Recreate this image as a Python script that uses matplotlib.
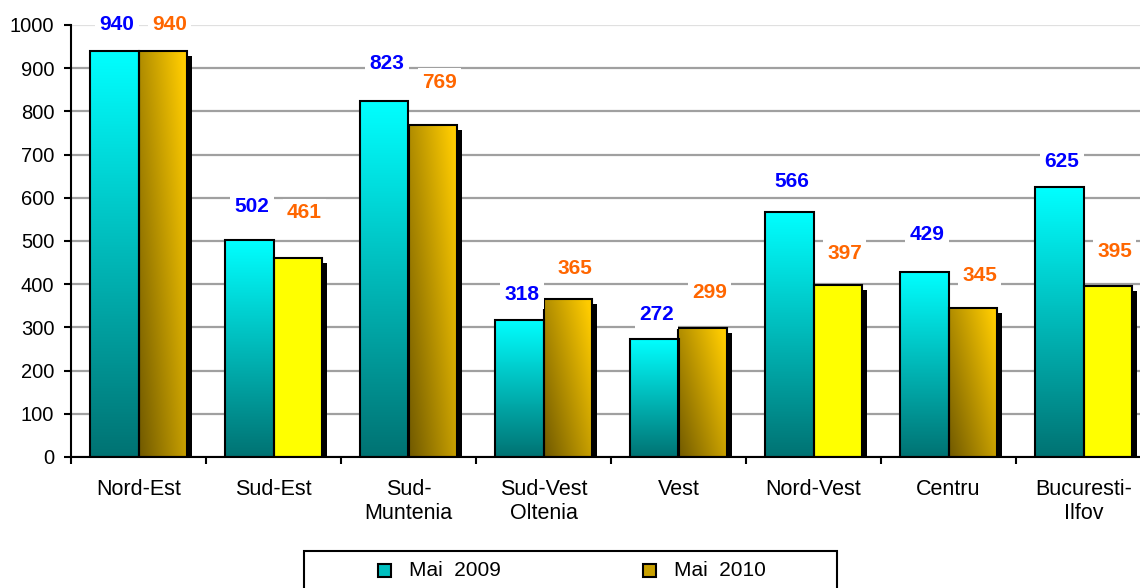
import numpy as np
import matplotlib.pyplot as plt
from matplotlib.patches import Rectangle
from matplotlib.transforms import ScaledTranslation

plt.rcParams['font.family'] = ['Liberation Sans', 'DejaVu Sans']

# Data
regions = ['Nord-Est', 'Sud-Est', 'Sud-\nMuntenia', 'Sud-Vest\nOltenia',
           'Vest', 'Nord-Vest', 'Centru', 'Bucuresti-\nIlfov']
mai_2009 = [940, 502, 823, 318, 272, 566, 429, 625]
mai_2010 = [940, 461, 769, 365, 299, 397, 345, 395]
series_labels = ['Mai  2009', 'Mai  2010']

# Styling: which 2010 bars are gold gradient and which are flat yellow
fill_2010 = ['gold', 'yellow', 'gold', 'gold', 'gold', 'yellow', 'gold', 'yellow']
# how far above each bar its value label sits (value units)
lift_2009 = [60, 77, 89, 57, 57, 71, 87, 59]
lift_2010 = [60, 104, 99, 72, 81, 75, 74, 80]

W = 0.36  # width of one bar, in category units


def cyan_gradient():
    t = np.linspace(0, 1, 128)[:, None]  # bottom -> top
    bottom = np.array([0.0, 0.45, 0.45])
    top = np.array([0.0, 1.0, 1.0])
    return (bottom + t[..., None] * (top - bottom))


def gold_gradient():
    yy, xx = np.mgrid[0:1:96j, 0:1:96j]  # rows bottom -> top
    t = np.clip(0.62 * xx + 0.45 * yy, 0, 1)
    dark = np.array([0.44, 0.35, 0.0])
    gold = np.array([1.0, 0.80, 0.0])
    return dark + t[..., None] * (gold - dark)


fig = plt.figure(figsize=(11.4, 5.88), dpi=100)
ax = fig.add_axes([71 / 1140, 131 / 588, 1080 / 1140, 432 / 588])

x = np.arange(len(regions))
x_2009 = x - W / 2
x_2010 = x + W / 2

# drop shadow behind the 2010 bars
shadow_tf = ax.transData + ScaledTranslation(5 / 100, -5 / 100, fig.dpi_scale_trans)
ax.bar(x_2010, mai_2010, W, color='black', zorder=1.5, transform=shadow_tf)

bars09 = ax.bar(x_2009, mai_2009, W, facecolor='none', edgecolor='black',
                linewidth=1.5, zorder=3)
bars10 = ax.bar(x_2010, mai_2010, W, facecolor='none', edgecolor='black',
                linewidth=1.5, zorder=3)

cg = cyan_gradient()
gg = gold_gradient()
for b in bars09:
    x0, h = b.get_x(), b.get_height()
    im = ax.imshow(cg, extent=(x0, x0 + W, 0, h), origin='lower',
                   aspect='auto', interpolation='bilinear', zorder=2)
    im.set_clip_path(b)
for b, style in zip(bars10, fill_2010):
    x0, h = b.get_x(), b.get_height()
    if style == 'yellow':
        ax.bar(b.get_x() + W / 2, h, W, color='#FFFF00', zorder=2)
    else:
        im = ax.imshow(gg, extent=(x0, x0 + W, 0, h), origin='lower',
                       aspect='auto', interpolation='bilinear', zorder=2)
        im.set_clip_path(b)

# value labels with white boxes cutting the gridlines
box = dict(boxstyle='square,pad=0.2', facecolor='white', edgecolor='none')
for xi, v, lift in zip(x_2009, mai_2009, lift_2009):
    ax.text(xi + 0.02, v + lift, str(v), ha='center', va='center', color='#0000FF',
            fontsize=15, fontweight='bold', bbox=box, zorder=4)
for xi, v, lift in zip(x_2010, mai_2010, lift_2010):
    ax.text(xi + 0.05, v + lift, str(v), ha='center', va='center', color='#FF6600',
            fontsize=15, fontweight='bold', bbox=box, zorder=4)

ax.set_xlim(-0.5, len(regions) - 0.5)
ax.set_ylim(0, 1000)
ax.set_yticks(np.arange(0, 1001, 100))
ax.set_xticks(x)
ax.set_xticklabels(regions, fontsize=15.5)
ax.set_xticks(np.arange(-0.5, len(regions), 1), minor=True)
ax.tick_params(axis='x', which='major', length=0, pad=16)
ax.tick_params(axis='x', which='minor', length=5, width=1.5, direction='out')
ax.tick_params(axis='y', length=5, width=1.5, direction='out', pad=7, labelsize=14.5)

ax.set_axisbelow(True)
ax.yaxis.grid(True, color='#A0A0A0', linewidth=1.6)
ax.get_ygridlines()[-1].set_color('#E0E0E0')
for side in ['top', 'right']:
    ax.spines[side].set_visible(False)
for side in ['left', 'bottom']:
    ax.spines[side].set_linewidth(1.5)
    ax.spines[side].set_zorder(5)

# legend box drawn by hand (sits partly below the picture)
fig.patches.append(Rectangle((304 / 1140, -20 / 588), 533 / 1140, 57 / 588,
                             transform=fig.transFigure, facecolor='white',
                             edgecolor='black', linewidth=1.5))
ly = 1 - 570 / 588
for lx, col, label in [(378, '#00C0C0', series_labels[0]), (643, '#C8A000', series_labels[1])]:
    fig.patches.append(Rectangle((lx / 1140, ly - 6.5 / 588), 13 / 1140, 13 / 588,
                                 transform=fig.transFigure, facecolor=col,
                                 edgecolor='black', linewidth=1.5))
    fig.text((lx + 31) / 1140, ly, label, va='center', ha='left', fontsize=15)

fig.savefig('out.png', dpi=100)
